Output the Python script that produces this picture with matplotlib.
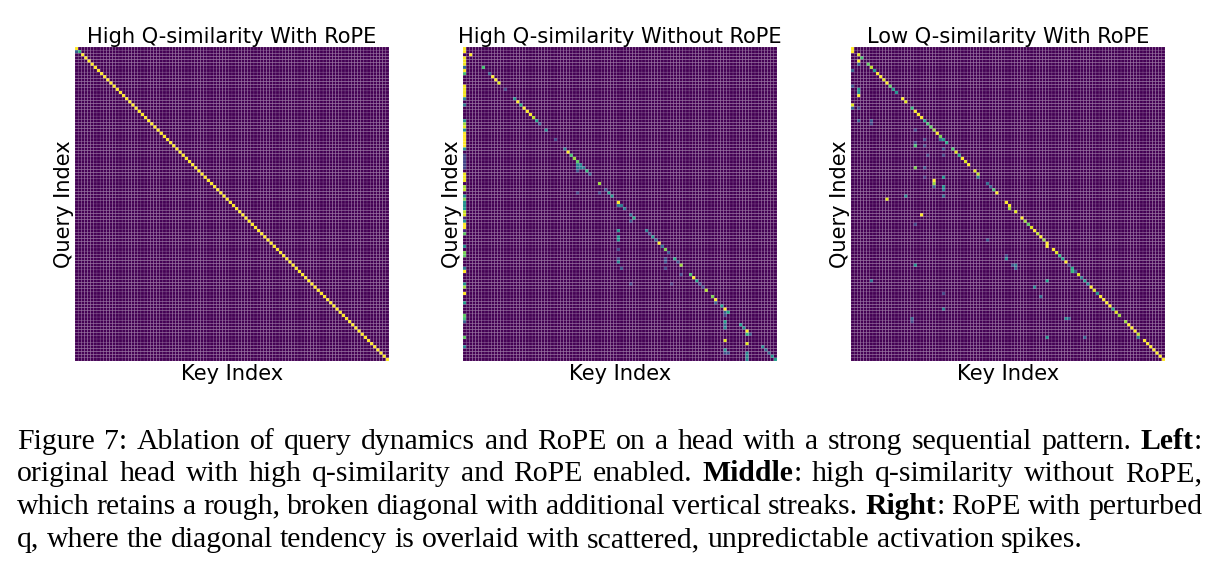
import matplotlib
matplotlib.use("Agg")
import matplotlib.pyplot as plt
import numpy as np

N = 100
W, H = 1219, 570

titles = ["High Q-similarity With RoPE", "High Q-similarity Without RoPE", "Low Q-similarity With RoPE"]
xlabel = "Key Index"
ylabel = "Query Index"

# left head: clean diagonal, plus the one off-diagonal cell near the start
left_diag = [1.0, 0.65, 1.0, 1.0, 1.0, 1.0, 1.0, 1.0, 1.0, 1.0,
             1.0, 1.0, 1.0, 1.0, 1.0, 1.0, 1.0, 1.0, 1.0, 1.0,
             1.0, 1.0, 1.0, 1.0, 1.0, 1.0, 1.0, 1.0, 1.0, 1.0,
             1.0, 1.0, 1.0, 1.0, 1.0, 1.0, 1.0, 1.0, 1.0, 1.0,
             1.0, 1.0, 1.0, 1.0, 1.0, 1.0, 1.0, 1.0, 1.0, 1.0,
             1.0, 1.0, 1.0, 1.0, 1.0, 1.0, 1.0, 1.0, 1.0, 1.0,
             1.0, 1.0, 1.0, 1.0, 1.0, 1.0, 1.0, 1.0, 1.0, 1.0,
             1.0, 1.0, 1.0, 1.0, 1.0, 1.0, 1.0, 1.0, 1.0, 1.0,
             1.0, 1.0, 1.0, 1.0, 1.0, 1.0, 1.0, 1.0, 1.0, 1.0,
             1.0, 1.0, 1.0, 1.0, 1.0, 1.0, 1.0, 1.0, 1.0, 1.0]
left_cells = [(1, 0, 0.3)]

# middle head: first key column, one value per query
mid_first_col = [1, 1, 0, .98, .98, .98, .35, 1, .7, 0,
                 0, 0, .98, .98, .98, .98, .45, 0, .4, 0,
                 0, 0, 0, .5, .85, .95, .5, 1, 1, 1,
                 1, 1, .5, 0, .2, .2, .2, .2, .2, 0,
                 .98, .98, .98, 0, .85, .9, 0, .5, .8, .5,
                 .5, .55, .9, .95, .1, .5, 1, 1, .1, .75,
                 0, 0, 0, .5, 0, .8, .75, 0, 0, 0,
                 .4, 1, 0, 0, 0, .5, .85, 0, 1, 0,
                 0, .55, 0, 0, 0, .75, .7, .3, 0, 0,
                 0, 0, .75, 0, 0, .45, 0, 0, 0, 0]

# (query, key, value)
mid_cells = [(2, 2, 1), (6, 6, .7), (8, 8, .3), (9, 9, 1), (10, 10, 1), (11, 11, .95),
             (13, 13, .2), (16, 16, .5), (17, 17, 1), (18, 18, .6), (19, 19, 1), (20, 20, 1),
             (21, 21, 1), (22, 22, .9), (23, 23, .55), (24, 24, .3), (26, 26, .45), (29, 29, .2),
             (32, 32, .4), (33, 33, 1), (34, 34, .7), (35, 35, .85), (36, 36, .75), (37, 36, .45),
             (37, 37, .45), (38, 36, .4), (38, 37, .4), (38, 38, .4), (39, 36, .25), (39, 39, .65),
             (40, 40, .3), (43, 43, .85), (46, 43, .2), (46, 36, .2), (45, 45, .25), (46, 46, .5),
             (47, 47, .5), (49, 49, 1), (50, 49, .4), (50, 50, .4), (51, 51, .4), (53, 53, .35),
             (54, 54, .6), (55, 53, .25), (58, 58, .4), (59, 59, .25), (60, 60, .5), (61, 61, .35),
             (62, 62, 1), (63, 63, .35), (64, 64, .8), (65, 65, .25), (67, 67, .6), (68, 68, .25),
             (69, 69, .85), (72, 72, .7), (73, 73, 1), (74, 74, .55), (75, 75, .25), (76, 76, .2),
             (77, 77, .88), (79, 79, .8), (80, 80, 1), (81, 80, .3), (82, 82, .55), (83, 83, 1),
             (84, 84, .6), (84, 83, .3), (85, 83, .2), (87, 83, .55), (88, 83, .3), (89, 83, .45),
             (88, 88, .55), (89, 89, .5), (90, 90, 1), (91, 90, .65), (91, 91, .25), (93, 83, .95),
             (94, 90, .95), (96, 83, .5), (97, 84, .25), (97, 83, .25), (97, 90, .45), (98, 90, .45),
             (99, 90, .45), (95, 95, .45), (96, 96, .35), (97, 97, .3), (98, 98, .5), (99, 99, .55),
             (58, 49, .5), (60, 49, .5), (61, 49, .5), (64, 49, .2), (67, 49, .2), (68, 49, .45),
             (70, 50, .25), (67, 64, .25), (68, 64, .25), (70, 64, .2), (72, 69, .2), (75, 53, .2),
             (75, 66, .15)]

right_cells = [(0, 0, 1), (1, 0, 1), (2, 2, .95), (3, 3, .7), (4, 2, 1), (5, 2, .3), (5, 5, .75),
               (6, 6, .9), (7, 7, .55), (8, 8, 1), (9, 9, 1), (10, 10, .95), (11, 11, 1),
               (12, 12, .75), (13, 13, .55), (14, 14, .5), (7, 0, .3), (12, 0, .25), (13, 2, .5),
               (14, 2, .5), (15, 2, 1), (16, 16, 1), (17, 17, .95), (19, 19, .65), (20, 20, 1),
               (21, 21, 1), (22, 22, 1), (23, 23, .6), (24, 24, .7), (25, 25, .75), (26, 26, .85),
               (27, 27, 1), (28, 28, .8), (29, 28, .35), (29, 29, .55), (30, 30, .6), (32, 32, .7),
               (33, 33, .95), (34, 34, .6), (35, 35, 1), (36, 36, .95), (37, 37, 1), (39, 39, .95),
               (40, 40, .9), (41, 40, .4), (43, 43, .35), (44, 44, .3), (45, 45, .7), (46, 46, 1),
               (49, 49, 1), (50, 50, 1), (18, 0, .95), (19, 0, .3), (19, 2, .2), (23, 2, .3),
               (23, 6, .25), (24, 6, .2), (26, 20, .2), (30, 20, .2), (31, 20, .7), (29, 23, .2),
               (31, 23, .2), (32, 29, .25), (34, 24, .2), (34, 29, .2), (38, 20, .8), (38, 23, .25),
               (41, 23, .15), (41, 29, .5), (42, 26, 1), (43, 26, .85), (44, 26, .3), (44, 29, .5),
               (45, 29, .4), (47, 29, .35), (47, 17, .45), (48, 11, .95), (53, 22, 1), (56, 20, .2),
               (61, 43, .25), (66, 49, .2), (67, 49, .45), (69, 20, .5), (69, 51, .25), (74, 6, .35),
               (78, 29, .2), (83, 29, .4), (86, 19, .3), (87, 19, .2), (51, 50, .85), (52, 52, .95),
               (54, 54, 1), (55, 55, .85), (56, 56, .75), (57, 57, .95), (58, 58, 1), (59, 59, .9),
               (60, 60, 1), (61, 61, .85), (62, 62, 1), (63, 62, 1), (64, 64, 1), (65, 65, .95),
               (66, 66, .65), (67, 67, .55), (68, 68, 1), (69, 69, .2), (70, 70, .6), (71, 70, .65),
               (71, 71, .3), (72, 72, .95), (73, 73, .4), (74, 74, .55), (75, 75, .45), (76, 76, 1),
               (77, 77, .95), (78, 78, .5), (79, 79, 1), (80, 80, 1), (81, 81, 1), (82, 82, 1),
               (83, 83, .6), (84, 84, .95), (85, 85, .85), (87, 87, .85), (88, 88, 1), (89, 89, 1),
               (90, 90, 1), (91, 91, .9), (92, 91, .4), (93, 93, 1), (94, 94, 1), (95, 95, 1),
               (96, 96, 1), (97, 97, 1), (98, 98, 1), (99, 99, 1), (69, 52, .4), (70, 52, .3),
               (69, 51, .25), (74, 62, .55), (76, 58, .45), (79, 60, .35), (86, 68, .45),
               (86, 69, .3), (92, 62, .5), (92, 74, .3)]

caption = [
    [["Figure"], ["7:"], ["Ablation"], ["of"], ["query"], ["dynamics"], ["and"], ["RoPE"], ["on"], ["a"],
     ["head"], ["with"], ["a"], ["strong"], ["sequential"], ["pattern."], ["*Left", ":"]],
    [["original"], ["head"], ["with"], ["high"], ["q-similarity"], ["and"], ["RoPE"], ["enabled."],
     ["*Middle", ":"], ["high"], ["q-similarity"], ["without"], ["RoPE,"]],
    [["which"], ["retains"], ["a"], ["rough,"], ["broken"], ["diagonal"], ["with"], ["additional"],
     ["vertical"], ["streaks."], ["*Right", ":"], ["RoPE"], ["with"], ["perturbed"]],
    [["q,"], ["where"], ["the"], ["diagonal"], ["tendency"], ["is"], ["overlaid"], ["with"], ["scattered,"],
     ["unpredictable"], ["activation"], ["spikes."]],
]
caption_base = [449, 481, 514, 547]
caption_right = [1202, 1202, 1202, 1083]

CAP_SIZE = 21.4
TEXT_SIZE = 15.1


def build_matrix(cells, diag=None, first_col=None):
    m = np.zeros((N, N))
    if diag is not None:
        m[np.arange(N), np.arange(N)] = diag
    if first_col is not None:
        m[:, 0] = first_col
    for r, c, v in cells:
        m[r, c] = v
    return m


def draw_heat(left_px, m, title):
    ax = fig.add_axes([left_px / W, 1 - 361 / H, 314 / W, 314 / H])
    ax.pcolormesh(m, cmap="viridis", vmin=0, vmax=1, edgecolors=(1, 1, 1, 0.25),
                  linewidth=0.25, antialiased=True, snap=False)
    ax.set_xlim(0, N)
    ax.set_ylim(N, 0)
    ax.set_xticks([])
    ax.set_yticks([])
    for s in ax.spines.values():
        s.set_visible(False)
    ax.set_title(title, fontsize=TEXT_SIZE, pad=2.5)
    ax.set_xlabel(xlabel, fontsize=TEXT_SIZE, labelpad=2)
    ax.set_ylabel(ylabel, fontsize=TEXT_SIZE, labelpad=1)


def run_width(token):
    # total width in pixels of the pieces of one word
    w = 0
    for piece in token:
        bold = piece.startswith("*")
        t = fig.text(0, 0, piece.lstrip("*"), family="Liberation Serif", fontsize=CAP_SIZE,
                     fontweight="bold" if bold else "normal")
        w += t.get_window_extent(renderer).width
        t.remove()
    return w


def draw_caption():
    # every line is set word by word so both edges sit where they should
    for line, base, right in zip(caption, caption_base, caption_right):
        widths = [run_width(tok) for tok in line]
        gap = (right - 17 - sum(widths)) / (len(line) - 1)
        x = 17
        for tok, w in zip(line, widths):
            px = x
            for piece in tok:
                bold = piece.startswith("*")
                t = fig.text(px / W, 1 - base / H, piece.lstrip("*"), family="Liberation Serif",
                             fontsize=CAP_SIZE, fontweight="bold" if bold else "normal",
                             va="baseline", ha="left")
                px += t.get_window_extent(renderer).width
            x += w + gap


fig = plt.figure(figsize=(W / 100, H / 100), dpi=100, facecolor="white")
renderer = fig.canvas.get_renderer()

draw_heat(75, build_matrix(left_cells, diag=left_diag), titles[0])
draw_heat(463, build_matrix(mid_cells, first_col=mid_first_col), titles[1])
draw_heat(851, build_matrix(right_cells), titles[2])
draw_caption()

fig.savefig("out.png", dpi=100)
